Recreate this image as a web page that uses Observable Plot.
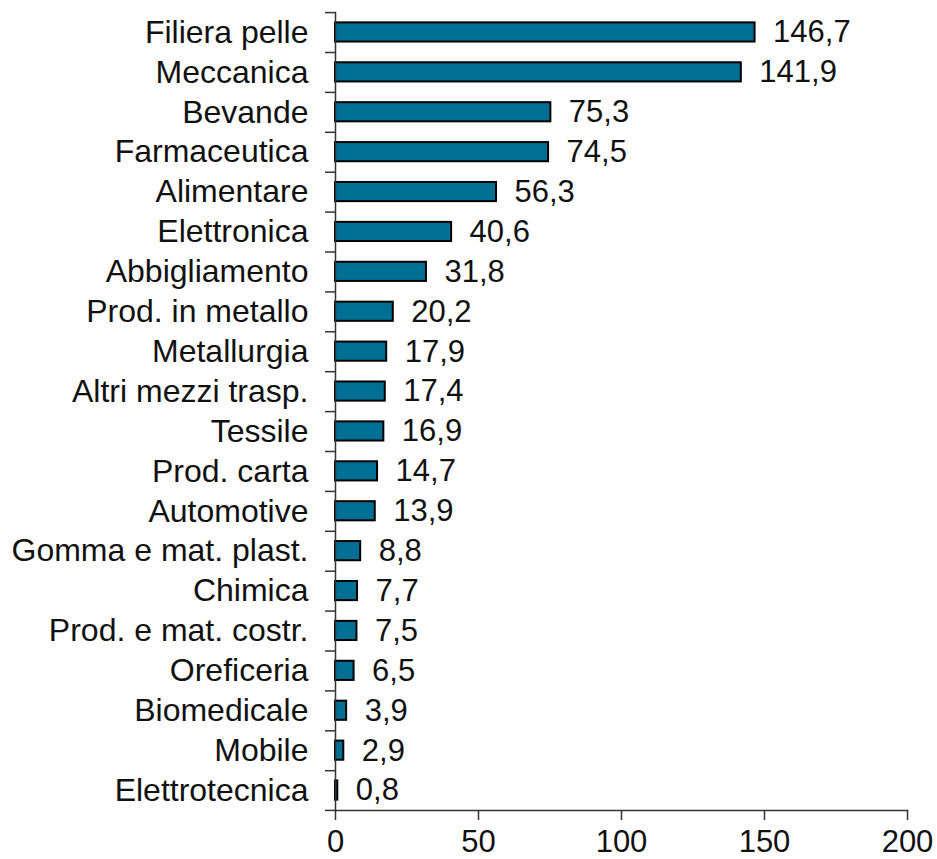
<!DOCTYPE html>
<html>
<head>
<meta charset="utf-8">
<script src="https://cdn.jsdelivr.net/npm/d3@7"></script>
<script src="https://cdn.jsdelivr.net/npm/@observablehq/plot@0.6"></script>
<style>
  html, body { margin: 0; padding: 0; background: #fff; }
  #chart svg { display: block; }
</style>
</head>
<body>
<div id="chart"></div>
<script>
const categories = [
  "Filiera pelle", "Meccanica", "Bevande", "Farmaceutica", "Alimentare",
  "Elettronica", "Abbigliamento", "Prod. in metallo", "Metallurgia",
  "Altri mezzi trasp.", "Tessile", "Prod. carta", "Automotive",
  "Gomma e mat. plast.", "Chimica", "Prod. e mat. costr.", "Oreficeria",
  "Biomedicale", "Mobile", "Elettrotecnica"
];
const values = [
  146.7, 141.9, 75.3, 74.5, 56.3, 40.6, 31.8, 20.2, 17.9, 17.4,
  16.9, 14.7, 13.9, 8.8, 7.7, 7.5, 6.5, 3.9, 2.9, 0.8
];
const xTicks = [0, 50, 100, 150, 200];

const data = categories.map((c, i) => ({name: c, value: values[i]}));
const fmt = v => v.toFixed(1).replace(".", ",");

const font = "'Liberation Sans', Arial, sans-serif";
const chart = Plot.plot({
  width: 937,
  height: 859,
  marginLeft: 335,
  marginRight: 30,
  marginTop: 12,
  marginBottom: 49,
  style: {fontFamily: font, fontSize: "31px", color: "#111", background: "#fff"},
  x: {domain: [0, 200], ticks: xTicks, label: null},
  y: {domain: categories, paddingInner: 0.52, paddingOuter: 0.26, round: false, label: null},
  marks: [
    Plot.barX(data, {x: "value", y: "name", fill: "#006f94", stroke: "#000", strokeWidth: 2}),
    Plot.text(data, {x: "value", y: "name", text: d => fmt(d.value), dx: 18, textAnchor: "start", fontSize: 31, fill: "#111"}),
    Plot.axisY({tickSize: 0, tickPadding: 27, fontSize: 32}),
    Plot.axisY({text: null, tickSize: 10, dy: -19.85, stroke: "#333", strokeWidth: 1.5}),
    Plot.axisY({ticks: [categories[categories.length - 1]], text: null, tickSize: 10, dy: 19.85, stroke: "#333", strokeWidth: 1.5}),
    Plot.axisX({ticks: xTicks, tickSize: 10, tickPadding: 9, fontSize: 31, tickFormat: d => String(d), stroke: "#333", strokeWidth: 1.5}),
    Plot.frame({anchor: "left", stroke: "#333", strokeWidth: 1.5}),
    Plot.frame({anchor: "bottom", stroke: "#333", strokeWidth: 1.5})
  ]
});
document.getElementById("chart").appendChild(chart);
</script>
</body>
</html>
